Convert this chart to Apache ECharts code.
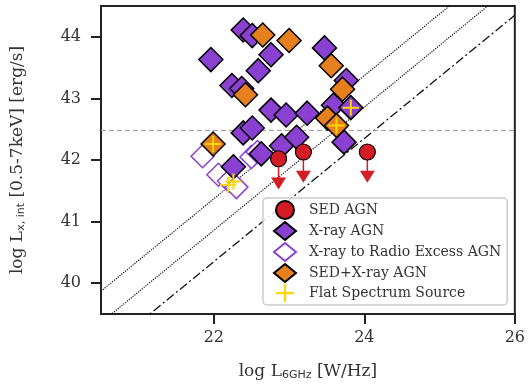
<!DOCTYPE html>
<html>
<head>
<meta charset="utf-8">
<script src="https://cdn.jsdelivr.net/npm/echarts@6/dist/echarts.min.js"></script>
<style>
  html, body { margin: 0; padding: 0; background: #fff; }
  #chart { width: 528px; height: 387px; }
</style>
</head>
<body>
<div id="chart"></div>
<script>
// 数据 (log L6GHz, log Lx)
const sedAgn = [[22.86, 42.02], [23.19, 42.13], [24.04, 42.13]];
const xrayAgn = [
  [21.96, 43.63], [22.39, 44.11], [22.51, 44.02], [22.76, 43.71], [22.59, 43.45],
  [22.24, 43.21], [22.37, 43.16], [22.76, 42.81], [22.96, 42.73], [23.24, 42.76],
  [23.47, 43.82], [23.76, 43.29], [23.59, 42.89], [23.82, 42.85], [23.73, 42.29],
  [22.39, 42.44], [22.51, 42.52], [22.63, 42.10], [22.90, 42.23], [23.10, 42.37],
  [22.26, 41.89]
];
const radioExcess = [
  [21.85, 42.06], [22.06, 41.76], [22.20, 41.66], [22.30, 41.56], [22.50, 42.05], [22.58, 42.13]
];
const sedXray = [
  [22.65, 44.03], [23.00, 43.94], [22.42, 43.06], [23.56, 43.53], [23.71, 43.15],
  [23.51, 42.68], [23.63, 42.56], [21.99, 42.26]
];
const flatSpectrum = [[21.99, 42.26], [22.19, 41.60], [22.26, 41.65], [23.82, 42.85], [23.63, 42.56]];

const xTicks = [22, 24, 26];
const yTicks = [40, 41, 42, 43, 44];
const xRange = [20.5, 26];
const yRange = [39.5, 44.5];
const lineOffsets = [19.37, 18.86, 18.35];   // y = x + c
const lxCut = 42.48;
const limitLen = 0.5;

(function () {
  const myChart = echarts.init(document.getElementById('chart'));
  const serif = 'DejaVu Serif';
  const purple = '#8a40d0';
  const orange = '#e6801f';
  const red = '#d41c25';
  const yellow = '#ffd700';
  const plusPath = 'path://M-1,-8H1V-1H8V1H1V8H-1V1H-8V-1H-1Z';

  // 上限箭头
  const limitSeries = sedAgn.map(p => ({
    type: 'line', silent: true, symbol: 'none', z: 3,
    lineStyle: { color: red, width: 1.5 },
    data: [[p[0], p[1]], [p[0], p[1] - limitLen * 0.7]]
  }));
  const headSeries = {
    type: 'scatter', silent: true, symbol: 'triangle', symbolRotate: 180,
    symbolSize: [15, 12], z: 3,
    itemStyle: { color: red, opacity: 1 },
    data: sedAgn.map(p => [p[0], p[1] - limitLen + 0.097])
  };

  const diagStyles = [
    { type: 'dotted', width: 1.2 },
    { type: 'dotted', width: 1.2 },
    { type: [9, 3, 2, 3], width: 1.3 }
  ];
  const diagSeries = lineOffsets.map((c, i) => ({
    type: 'line', silent: true, symbol: 'none', z: 1,
    lineStyle: Object.assign({ color: '#111' }, diagStyles[i]),
    data: xRange.map(x => [x, x + c])
  }));

  const option = {
    animation: false,
    grid: {
      left: 101, right: 11, top: 6, bottom: 73,
      show: true, borderColor: '#222', borderWidth: 2
    },
    legend: {
      data: ['SED AGN', 'X-ray AGN', 'X-ray to Radio Excess AGN', 'SED+X-ray AGN', 'Flat Spectrum Source'],
      orient: 'vertical',
      left: 263, top: 198,
      itemWidth: 22, itemHeight: 18, itemGap: 1,
      padding: [2, 6, 3, 10],
      backgroundColor: 'rgba(255,255,255,0.85)',
      borderColor: '#ccc', borderWidth: 1.5, borderRadius: 4,
      textStyle: { fontFamily: serif, fontSize: 14, color: '#333', padding: [0, 0, 0, 8] }
    },
    xAxis: {
      type: 'value', min: xRange[0], max: xRange[1],
      name: '{a|log L}{s|6GHz}{a| [W/Hz]}',
      nameLocation: 'middle', nameGap: 48,
      nameTextStyle: {
        rich: {
          a: { fontFamily: serif, fontSize: 17, color: '#333' },
          s: { fontFamily: 'DejaVu Sans', fontSize: 11, color: '#333', verticalAlign: 'bottom', padding: [8, 0, 0, 0] }
        }
      },
      axisLine: { lineStyle: { color: '#222', width: 2 } },
      axisTick: { customValues: xTicks, length: 10, lineStyle: { color: '#222', width: 2 } },
      axisLabel: { customValues: xTicks, fontFamily: serif, fontSize: 16, color: '#333', margin: 16 },
      splitLine: { show: false }
    },
    yAxis: {
      type: 'value', min: yRange[0], max: yRange[1],
      name: '{a|log L}{s|x, int}{a| [0.5-7keV] [erg/s]}',
      nameLocation: 'middle', nameGap: 74, nameRotate: 90,
      nameTextStyle: {
        rich: {
          a: { fontFamily: serif, fontSize: 17, color: '#333' },
          s: { fontFamily: 'DejaVu Sans', fontSize: 11, color: '#333', verticalAlign: 'bottom', padding: [8, 0, 0, 0] }
        }
      },
      axisLine: { lineStyle: { color: '#222', width: 2 } },
      axisTick: { customValues: yTicks, length: 10, lineStyle: { color: '#222', width: 2 } },
      axisLabel: { customValues: yTicks, fontFamily: serif, fontSize: 16, color: '#333', margin: 20 },
      splitLine: { show: false }
    },
    series: [
      ...diagSeries,
      {
        type: 'line', silent: true, symbol: 'none', z: 1,
        lineStyle: { color: '#999', type: [5, 3], width: 1 },
        data: xRange.map(x => [x, lxCut])
      },
      {
        name: 'X-ray to Radio Excess AGN', type: 'scatter', symbol: 'diamond', symbolSize: 23, z: 2,
        itemStyle: { color: '#fff', borderColor: purple, borderWidth: 1.5, opacity: 1 },
        data: radioExcess
      },
      {
        name: 'X-ray AGN', type: 'scatter', symbol: 'diamond', symbolSize: 24, z: 2,
        itemStyle: { color: purple, borderColor: '#000', borderWidth: 1.5, opacity: 1 },
        data: xrayAgn
      },
      ...limitSeries,
      headSeries,
      {
        name: 'SED AGN', type: 'scatter', symbol: 'circle', symbolSize: 16, z: 4,
        itemStyle: { color: red, borderColor: '#000', borderWidth: 1.2, opacity: 1 },
        data: sedAgn
      },
      {
        name: 'SED+X-ray AGN', type: 'scatter', symbol: 'diamond', symbolSize: 24, z: 4,
        itemStyle: { color: orange, borderColor: '#000', borderWidth: 1.5, opacity: 1 },
        data: sedXray
      },
      {
        name: 'Flat Spectrum Source', type: 'scatter', symbol: plusPath, symbolSize: 16, z: 5,
        itemStyle: { color: yellow, opacity: 1 },
        data: flatSpectrum
      }
    ]
  };
  myChart.setOption(option);

  window.addEventListener('resize', function () {
    myChart.resize();
  });
})();
</script>
</body>
</html>
